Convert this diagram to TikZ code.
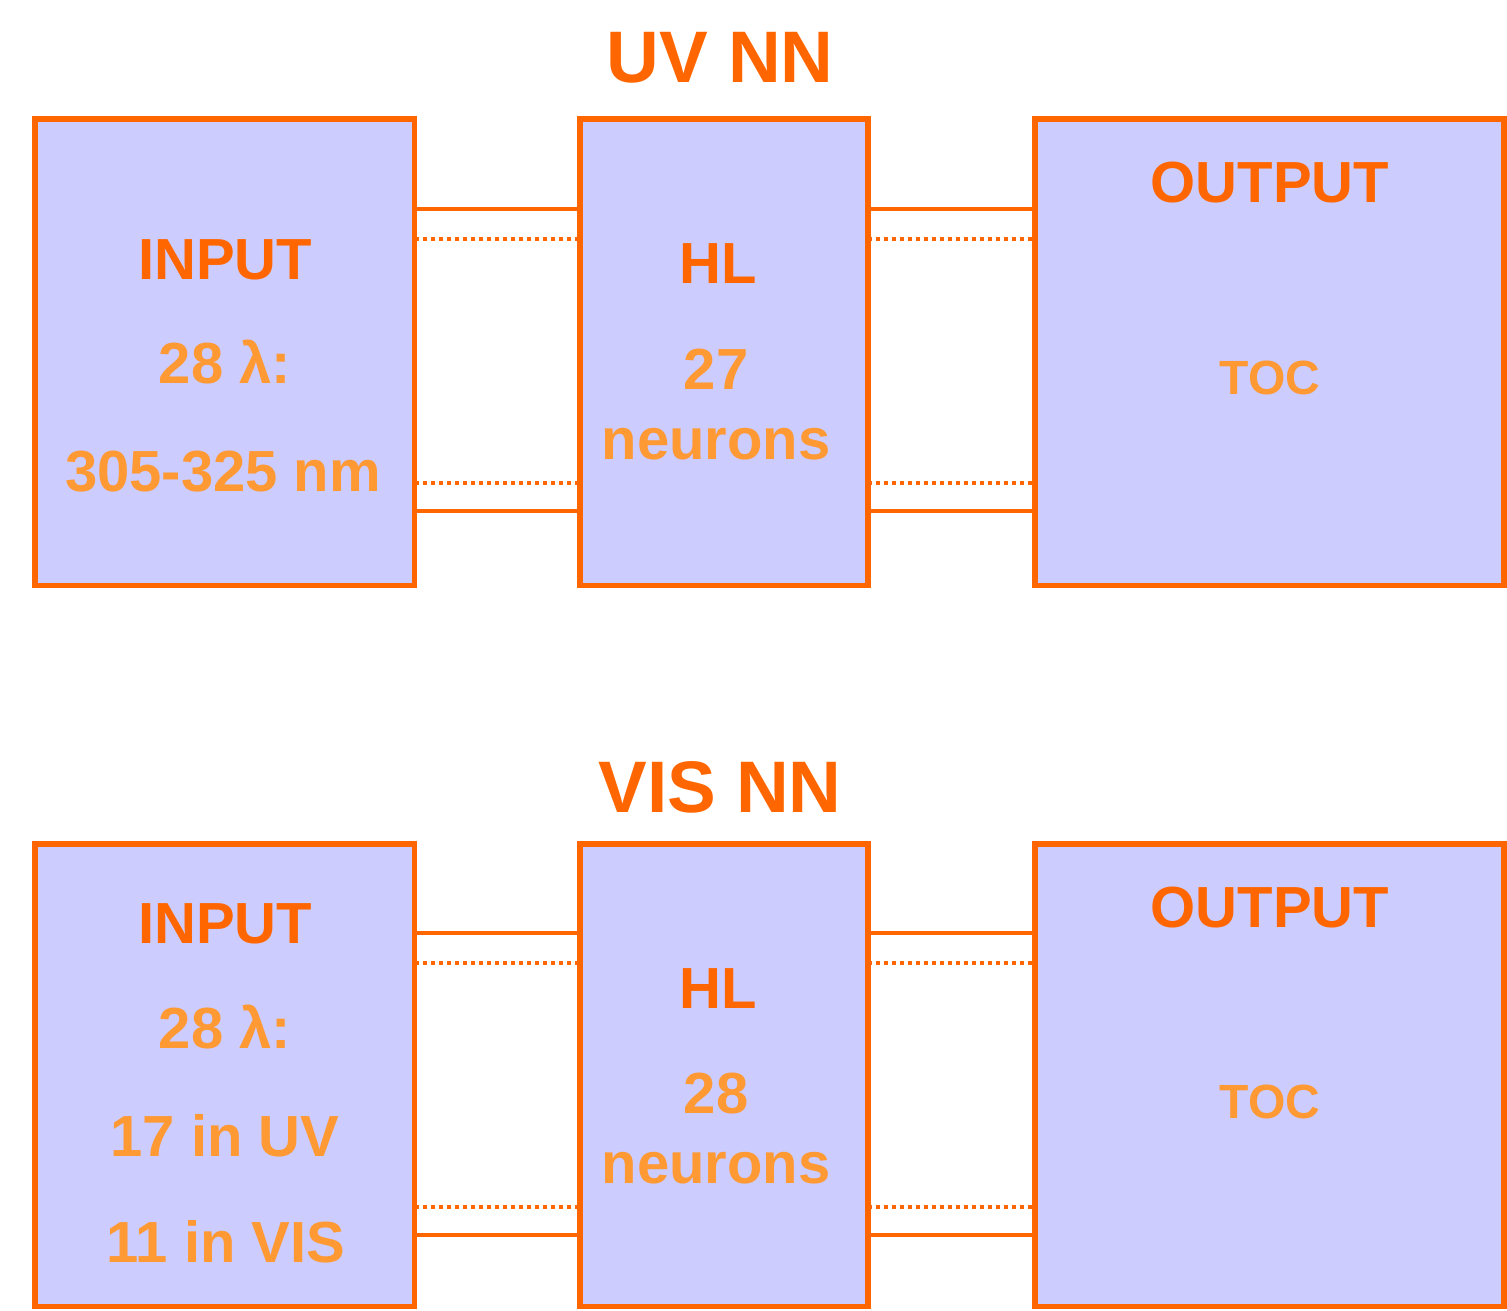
\documentclass[tikz,border=0pt]{standalone}
\usepackage{fontspec}
\setmainfont{Liberation Sans}
\definecolor{edge}{HTML}{FF6600}
\definecolor{boxfill}{HTML}{CCCCFF}
\definecolor{lighttext}{HTML}{FF9933}
\tikzset{
  box/.style={draw=edge, fill=boxfill, line width=2.75pt, rectangle, inner sep=0pt, outer sep=0pt},
  solidlink/.style={draw=edge, line width=2pt},
  dotlink/.style={draw=edge, line width=2pt, dash pattern=on 2pt off 2pt},
  title/.style={anchor=base, inner sep=0pt, text=edge, font=\fontsize{36.5}{40}\selectfont\bfseries},
  head/.style={anchor=base, inner sep=0pt, text=edge, font=\fontsize{29}{32}\selectfont\bfseries},
  body/.style={anchor=base, inner sep=0pt, text=lighttext, font=\fontsize{29}{32}\selectfont\bfseries},
  small/.style={anchor=base, inner sep=0pt, text=lighttext, font=\fontsize{24}{28}\selectfont\bfseries},
}
\begin{document}
\begin{tikzpicture}[x=0.5pt, y=-0.5pt]
\useasboundingbox (0,0) rectangle (1507,1310);

% ---- top network ----
\node[box, minimum width=189.75pt, minimum height=233.25pt] (tin) at (224.75,352.25) {};
\node[box, minimum width=144pt, minimum height=233.25pt] (thl) at (724,352.25) {};
\node[box, minimum width=234.5pt, minimum height=233.25pt] (tout) at (1269.5,352.25) {};

\node[title] (ttitle) at (720,83) {UV NN};
\node[head] (tinh) at (225,279) {INPUT};
\node[body] (tin1) at (225,383) {28 λ:};
\node[body] (tin2) at (223,491) {305-325 nm};
\node[head] (thlh) at (718,284) {HL};
\node[body] (thl1) at (716,389) {27};
\node[body] (thl2) at (716,459) {neurons};
\node[head] (touth) at (1270,203) {OUTPUT};
\node[small] (tout1) at (1270,394) {TOC};

\coordinate (ya) at (0,209);
\coordinate (yb) at (0,239);
\coordinate (yc) at (0,483);
\coordinate (yd) at (0,511);
\draw[solidlink] (tin.east |- ya) -- (thl.west |- ya);
\draw[dotlink]   (tin.east |- yb) -- (thl.west |- yb);
\draw[dotlink]   (tin.east |- yc) -- (thl.west |- yc);
\draw[solidlink] (tin.east |- yd) -- (thl.west |- yd);
\draw[solidlink] (thl.east |- ya) -- (tout.west |- ya);
\draw[dotlink]   (thl.east |- yb) -- (tout.west |- yb);
\draw[dotlink]   (thl.east |- yc) -- (tout.west |- yc);
\draw[solidlink] (thl.east |- yd) -- (tout.west |- yd);

% ---- bottom network ----
\node[box, minimum width=189.75pt, minimum height=231.25pt] (bin) at (224.75,1075) {};
\node[box, minimum width=144pt, minimum height=231.25pt] (bhl) at (724,1075) {};
\node[box, minimum width=234.5pt, minimum height=231.25pt] (bout) at (1269.5,1075) {};

\node[title] (btitle) at (720,812) {VIS NN};
\node[head] (binh) at (225,943) {INPUT};
\node[body] (bin1) at (225,1048) {28 λ:};
\node[body] (bin2) at (225,1156) {17 in UV};
\node[body] (bin3) at (226,1262) {11 in VIS};
\node[head] (bhlh) at (718,1008) {HL};
\node[body] (bhl1) at (716,1113) {28};
\node[body] (bhl2) at (716,1183) {neurons};
\node[head] (bouth) at (1270,927) {OUTPUT};
\node[small] (bout1) at (1270,1118) {TOC};

\coordinate (za) at (0,933);
\coordinate (zb) at (0,963);
\coordinate (zc) at (0,1207);
\coordinate (zd) at (0,1235);
\draw[solidlink] (bin.east |- za) -- (bhl.west |- za);
\draw[dotlink]   (bin.east |- zb) -- (bhl.west |- zb);
\draw[dotlink]   (bin.east |- zc) -- (bhl.west |- zc);
\draw[solidlink] (bin.east |- zd) -- (bhl.west |- zd);
\draw[solidlink] (bhl.east |- za) -- (bout.west |- za);
\draw[dotlink]   (bhl.east |- zb) -- (bout.west |- zb);
\draw[dotlink]   (bhl.east |- zc) -- (bout.west |- zc);
\draw[solidlink] (bhl.east |- zd) -- (bout.west |- zd);
\end{tikzpicture}
\end{document}
